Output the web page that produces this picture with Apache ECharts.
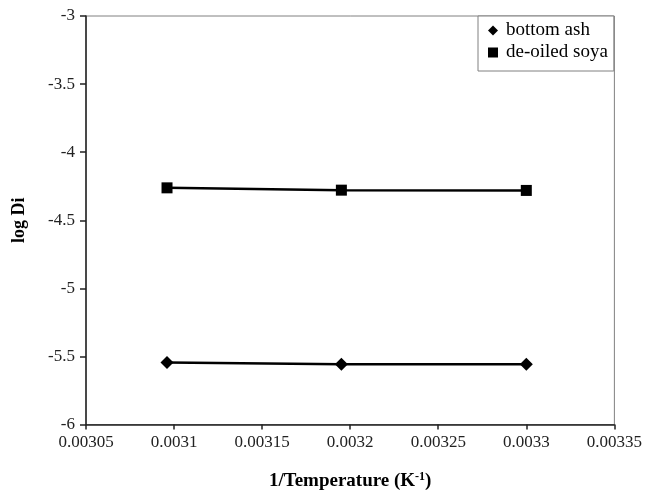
<!DOCTYPE html>
<html>
<head>
<meta charset="utf-8">
<script src="https://cdn.jsdelivr.net/npm/echarts@6/dist/echarts.min.js"></script>
<style>
  html, body { margin: 0; padding: 0; background: #fff; }
  #chart { width: 645px; height: 496px; }
</style>
</head>
<body>
<div id="chart"></div>
<script>
// Reciprocal temperatures (1/K) at 323, 313 and 303 K
const invTemperature = [0.003096, 0.003195, 0.0033];
// log of intraparticle diffusion coefficient
const bottomAsh = [-5.544, -5.557, -5.557];
const deOiledSoya = [-4.262, -4.279, -4.281];
const seriesNames = ['bottom ash', 'de-oiled soya'];

const FONT = 'Liberation Serif';

function pairs(xs, ys) {
  return xs.map((x, i) => [x, ys[i]]);
}

const chart = echarts.init(document.getElementById('chart'), null, { renderer: 'canvas' });

chart.setOption({
  animation: false,
  backgroundColor: '#ffffff',
  grid: { left: 86, right: 28, top: 16, bottom: 71, show: true, borderColor: '#808080', borderWidth: 1 },
  xAxis: {
    type: 'value',
    min: 0.00305,
    max: 0.00335,
    interval: 0.00005,
    name: '1/Temperature (K{sup|-1})',
    nameLocation: 'middle',
    nameGap: 46,
    nameTextStyle: {
      fontFamily: FONT, fontSize: 19, fontWeight: 'bold', color: '#000',
      rich: { sup: { fontFamily: FONT, fontSize: 12, fontWeight: 'bold', verticalAlign: 'top', padding: [0, 0, 10, 0] } }
    },
    axisLine: { show: true, onZero: false, lineStyle: { color: '#222', width: 1.5 } },
    axisTick: { show: true, inside: false, length: 5, lineStyle: { color: '#222', width: 1.5 } },
    axisLabel: {
      fontFamily: FONT, fontSize: 17, color: '#222', margin: 10,
      formatter: v => String(parseFloat(v.toFixed(6)))
    },
    splitLine: { show: false }
  },
  yAxis: {
    type: 'value',
    min: -6,
    max: -3,
    interval: 0.5,
    name: 'log Di',
    nameLocation: 'middle',
    nameGap: 58,
    nameRotate: 90,
    nameTextStyle: { fontFamily: FONT, fontSize: 18, fontWeight: 'bold', color: '#000' },
    axisLine: { show: true, onZero: false, lineStyle: { color: '#222', width: 1.5 } },
    axisTick: { show: true, inside: false, length: 6, lineStyle: { color: '#222', width: 1.5 } },
    axisLabel: { fontFamily: FONT, fontSize: 17, color: '#222', margin: 11 },
    splitLine: { show: false }
  },
  legend: {
    orient: 'vertical',
    left: 478,
    top: 16,
    padding: [5, 6, 9, 10],
    itemGap: 3,
    itemWidth: 10,
    itemHeight: 10,
    backgroundColor: '#fff',
    borderColor: '#808080',
    borderWidth: 1,
    borderRadius: 0,
    textStyle: { fontFamily: FONT, fontSize: 19, color: '#000', padding: [0, 0, 0, 3] },
    data: [
      { name: seriesNames[0], icon: 'diamond' },
      { name: seriesNames[1], icon: 'rect' }
    ]
  },
  series: [
    {
      name: seriesNames[0],
      type: 'line',
      data: pairs(invTemperature, bottomAsh),
      symbol: 'diamond',
      symbolSize: 13,
      lineStyle: { color: '#000', width: 2.5 },
      itemStyle: { color: '#000' }
    },
    {
      name: seriesNames[1],
      type: 'line',
      data: pairs(invTemperature, deOiledSoya),
      symbol: 'rect',
      symbolSize: 11,
      lineStyle: { color: '#000', width: 2.5 },
      itemStyle: { color: '#000' }
    }
  ]
});
</script>
</body>
</html>
